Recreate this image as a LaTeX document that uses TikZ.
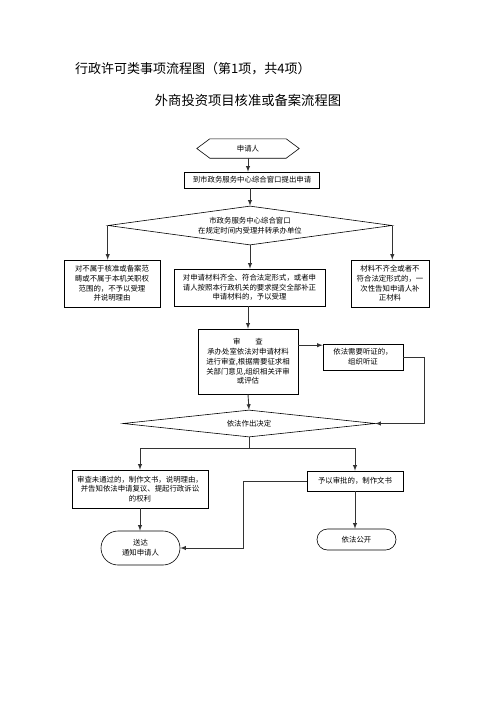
\documentclass[tikz,border=0pt]{standalone}
\usepackage{fontspec}
\newfontfamily\cjk{Noto Sans CJK SC}
\usetikzlibrary{shapes.geometric,shapes.misc}
\begin{document}
\begin{tikzpicture}[x=1pt,y=-1pt,>=latex,
    title/.style={font=\cjk\fontsize{13}{15}\selectfont, inner sep=0pt},
    txt/.style={font=\cjk\fontsize{7.4}{9.7}\selectfont, inner sep=0pt, align=center},
    box/.style={txt, draw, line width=0.6pt},
    decision/.style={txt, draw, line width=0.6pt, diamond},
    ends/.style={txt, draw, line width=0.6pt, rounded rectangle},
    link/.style={->, line width=0.9pt, black!80}]
    \useasboundingbox (0,0) rectangle (496,702);
    \node[title, anchor=west] (head) at (75,69) {行政许可类事项流程图（第1项，共4项）};
    \node[title, font=\cjk\fontsize{13.3}{15}\selectfont] (name) at (248,100) {外商投资项目核准或备案流程图};
    \node[txt, minimum width=102pt, minimum height=19pt] (start) at (248,148.5) {申请人};
    \draw[line width=0.6pt] ([xshift=13pt]start.north west) -- ([xshift=-13pt]start.north east) -- (start.east) -- ([xshift=-13pt]start.south east) -- ([xshift=13pt]start.south west) -- (start.west) -- cycle;
    \node[box, minimum width=135pt, minimum height=16pt] (apply) at (252,180) {到市政务服务中心综合窗口提出申请};
    \node[decision, aspect=7.3, minimum width=284pt, minimum height=39pt] (window) at (250,225.5) {市政务服务中心综合窗口\\在规定时间内受理并转承办单位};
    \node[box, minimum width=96pt, minimum height=47pt] (outside) at (112,283.5) {对不属于核准或备案范\\畴或不属于本机关职权\\范围的，不予以受理\\并说明理由};
    \node[box, minimum width=151pt, minimum height=37pt] (accept) at (249.5,287.5) {对申请材料齐全、符合法定形式，或者申\\请人按照本行政机关的要求提交全部补正\\申请材料的，予以受理};
    \node[box, minimum width=78pt, minimum height=47pt] (lacking) at (390,283.5) {材料不齐全或者不\\符合法定形式的，一\\次性告知申请人补\\正材料};
    \node[box, minimum width=100pt, minimum height=65pt] (review) at (248,361.5) {审\hspace{2em}查\\承办处室依法对申请材料\\进行审查,根据需要征求相\\关部门意见,组织相关评审\\或评估};
    \node[box, minimum width=80pt, minimum height=26pt] (hearing) at (363,357) {依法需要听证的，\\组织听证};
    \coordinate (hearin) at ([yshift=-1.5pt]hearing.north west);
    \node[decision, aspect=9.3, minimum width=252pt, minimum height=27pt] (decide) at (249,423.5) {依法作出决定};
    \node[box, minimum width=136pt, minimum height=38pt] (reject) at (140,489) {审查未通过的，制作文书，说明理由，\\并告知依法申请复议、提起行政诉讼\\的权利};
    \node[box, minimum width=96pt, minimum height=20pt] (approve) at (355,481) {予以审批的，制作文书};
    \node[ends, minimum width=79pt, minimum height=34pt] (deliver) at (140.5,548) {送达\\通知申请人};
    \node[ends, minimum width=79pt, minimum height=21pt] (publish) at (356.5,539.5) {依法公开};
    \draw[link] (start.south) -- (start.south |- apply.north);
    \draw[link] (apply.south -| window.north) -- (window.north);
    \draw[link] (window.west) -- (window.west |- outside.north);
    \draw[link] (window.south) -- (window.south |- accept.north);
    \draw[link] (window.east) -- (window.east |- lacking.north);
    \draw[link] (accept.south -| review.north) -- (review.north);
    \draw[link] (review.east |- hearin) -- (hearin);
    \draw[link] (hearing.east) -- ++(21,0) |- (decide.east);
    \draw[link] (review.south) -- (decide.north);
    \draw[link] (decide.south) -- ++(0,11) -| (reject.north);
    \draw[link] (decide.south) -- ++(0,11) -| (approve.north);
    \draw[link] (reject.south) -- (reject.south |- deliver.north);
    \draw[link] (approve.south) -- (approve.south |- publish.north);
    \draw[link] (approve.west) -- ++(-63,0) |- (deliver.east);
\end{tikzpicture}
\end{document}
